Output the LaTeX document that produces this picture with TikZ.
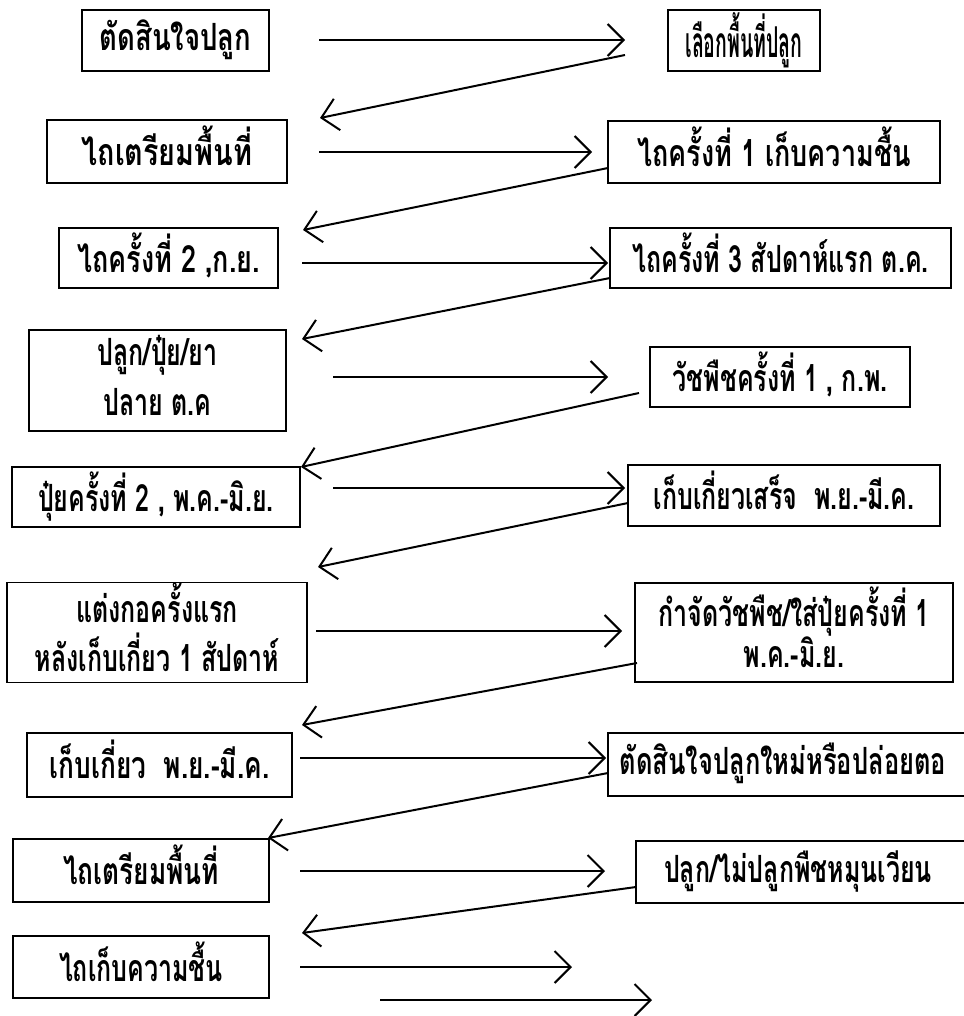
\documentclass[tikz,border=0pt]{standalone}
\usepackage{fontspec}
\usepackage{graphicx}
\newfontfamily\thaifont[Script=Thai]{Loma}
\usetikzlibrary{arrows.meta}
\newcommand\tx[2][1]{\scalebox{#1}[1.5]{\begin{tabular}{@{}c@{}}#2\end{tabular}}}
\begin{document}
\begin{tikzpicture}[x=1pt,y=-1pt,
  box/.style={draw,line width=1.6pt,align=center,inner sep=0pt,font=\thaifont\bfseries\fontsize{25}{24}\selectfont},
  flow/.style={line width=2pt,-{Straight Barb[length=16pt,width=32pt,line width=2pt]}}]
\useasboundingbox (0,0) rectangle (963,1016);
% left boxes
\node[box,minimum width=187pt,minimum height=61pt] (L1) at (175.5,40.5) {\tx[1.1]{ตัดสินใจปลูก}};
\node[box,minimum width=240pt,minimum height=63pt] (L2) at (167,151.5) {\tx[1.15]{ไถเตรียมพื้นที่}};
\node[box,minimum width=219pt,minimum height=60pt] (L3) at (168.5,258) {\tx[1.08]{ไถครั้งที่ 2 ,ก.ย.}};
\node[box,minimum width=257pt,minimum height=101pt] (L4) at (157.5,380.5) {\tx{ปลูก/ปุ๋ย/ยา\\[8pt]ปลาย ต.ค}};
\node[box,minimum width=288pt,minimum height=60pt] (L5) at (156,497) {\tx{ปุ๋ยครั้งที่ 2 , พ.ค.-มิ.ย.}};
\node[box,minimum width=300pt,minimum height=99pt] (L6) at (157,632.5) {\tx{แต่งกอครั้งแรก\\หลังเก็บเกี่ยว 1 สัปดาห์}};
\node[box,minimum width=265pt,minimum height=64pt] (L7) at (159.5,765) {\tx[1.05]{เก็บเกี่ยว\ \ พ.ย.-มี.ค.}};
\node[box,minimum width=256pt,minimum height=63pt] (L8) at (141,870.5) {\tx[1.05]{ไถเตรียมพื้นที่}};
\node[box,minimum width=256pt,minimum height=62pt] (L9) at (141,967) {\tx{ไถเก็บความชื้น}};
% right boxes
\node[box,minimum width=152pt,minimum height=61pt] (R1) at (744,40.5) {\scalebox{0.78}[1.7]{เลือกพื้นที่ปลูก}};
\node[box,minimum width=332pt,minimum height=62pt] (R2) at (774,152) {\tx[1.08]{ไถครั้งที่ 1 เก็บความชื้น}};
\node[box,minimum width=341pt,minimum height=60pt] (R3) at (780.5,258) {\tx{ไถครั้งที่ 3 สัปดาห์แรก ต.ค.}};
\node[box,minimum width=260pt,minimum height=60pt] (R4) at (780,377) {\tx{วัชพืชครั้งที่ 1 , ก.พ.}};
\node[box,minimum width=312pt,minimum height=61pt] (R5) at (784,495.5) {\tx{เก็บเกี่ยวเสร็จ\ \ พ.ย.-มี.ค.}};
\node[box,minimum width=318pt,minimum height=99pt] (R6) at (794,632.5) {\tx{กำจัดวัชพืช/ใส่ปุ๋ยครั้งที่ 1\\พ.ค.-มิ.ย.}};
\node[box,minimum width=362pt,minimum height=63pt] (R7) at (789,764.5) {\hspace*{-12pt}\tx[1.02]{ตัดสินใจปลูกใหม่หรือปล่อยตอ}};
\node[box,minimum width=336pt,minimum height=62pt] (R8) at (804,872) {\hspace*{-12pt}\tx{ปลูก/ไม่ปลูกพืชหมุนเวียน}};
% horizontal arrow ends
\coordinate (h1a) at (319,40);  \coordinate (h1b) at (625,40);
\coordinate (h2a) at (319,152); \coordinate (h2b) at (592,152);
\coordinate (h3a) at (302,263); \coordinate (h3b) at (608,263);
\coordinate (h4a) at (333,377); \coordinate (h4b) at (608,377);
\coordinate (h5a) at (333,488); \coordinate (h5b) at (625,488);
\coordinate (h6a) at (316,631); \coordinate (h6b) at (622,631);
\coordinate (h7a) at (300,758); \coordinate (h7b) at (606,758);
\coordinate (h8a) at (300,871); \coordinate (h8b) at (605,871);
\coordinate (h9a) at (300,967); \coordinate (h9b) at (572,967);
\coordinate (h10a) at (380,1000); \coordinate (h10b) at (652,1000);
% diagonal arrow ends
\coordinate (d1a) at (625,55);  \coordinate (d1b) at (320,118);
\coordinate (d2a) at (608,168); \coordinate (d2b) at (303,230);
\coordinate (d3a) at (610,278); \coordinate (d3b) at (302,339);
\coordinate (d4a) at (639,393); \coordinate (d4b) at (301,467);
\coordinate (d5a) at (628,503); \coordinate (d5b) at (318,567);
\coordinate (d6a) at (637,663); \coordinate (d6b) at (302,725);
\coordinate (d7a) at (608,773); \coordinate (d7b) at (268,838);
\coordinate (d8a) at (636,887); \coordinate (d8b) at (302,933);
\foreach \i in {1,...,10} {\draw[flow] (h\i a) -- (h\i b);}
\foreach \i in {1,...,8} {\draw[flow] (d\i a) -- (d\i b);}
\end{tikzpicture}
\end{document}
